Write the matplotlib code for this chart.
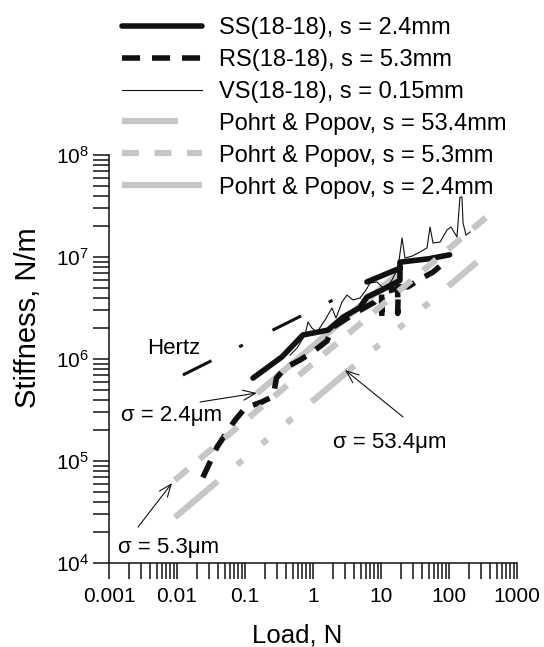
import matplotlib
matplotlib.use('Agg')
import numpy as np
import matplotlib.pyplot as plt
from matplotlib.ticker import FixedLocator, FixedFormatter, NullFormatter

plt.rcParams['font.family'] = ['Liberation Sans', 'DejaVu Sans']
plt.rcParams['mathtext.fontset'] = 'custom'
plt.rcParams['mathtext.rm'] = 'Liberation Sans'
plt.rcParams['mathtext.it'] = 'Liberation Sans:italic'
plt.rcParams['mathtext.default'] = 'regular'
plt.rcParams['lines.scale_dashes'] = False

# ---------------- data ----------------
ss_load = [0.131, 0.35, 0.71, 1.66, 2.76, 4.9, 6.2, 10.0, 19.0, 19.0, 50.0, 102.0, np.nan, 6.2, 19.3]
ss_stiff = [6.5e5, 1.05e6, 1.72e6, 1.92e6, 2.57e6, 3.2e6, 4.05e6, 4.7e6, 5.9e6, 8.9e6, 9.6e6, 1.05e7, np.nan, 5.7e6, 7.8e6]

rs_load = [0.024, 0.039, 0.071, 0.10, 0.178, 0.26, 0.29, 0.39, 0.65, 1.0, 1.6, 1.96, 4.9, 8.0,
           10.2, 10.2, 10.5, 17.6, 17.6, 18.0, 25.0, 35.0, 58.0, 94.0]
rs_stiff = [6.9e4, 1.38e5, 2.5e5, 3.3e5, 3.8e5, 4.3e5, 6.5e5, 8.2e5, 9.8e5, 1.18e6, 1.5e6, 2.05e6, 3.0e6, 3.6e6,
            4.4e6, 2.4e6, 4.5e6, 4.9e6, 2.8e6, 5.1e6, 5.1e6, 5.9e6, 7.1e6, 9.3e6]

vs_load = [0.459, 0.582, 0.762, 0.843, 0.966, 1.145, 1.50, 1.90, 2.18, 2.67, 3.16, 3.87, 4.91, 6.02,
           6.89, 8.73, 11.5, 14.5, 17.8, 20.4, 22.5, 28.6, 37.5, 47.5, 52.6, 58.2, 73.8, 93.5, 107,
           131, 145, 155, 161, 178, 204]
vs_stiff = [1.09e6, 1.28e6, 1.72e6, 2.31e6, 2.01e6, 1.84e6, 2.41e6, 3.16e6, 2.52e6, 3.62e6, 4.24e6, 3.79e6,
            3.96e6, 4.75e6, 5.56e6, 5.69e6, 4.75e6, 5.96e6, 7.8e6, 1.54e7, 9.77e6, 1.02e7, 1.12e7, 1.23e7,
            1.97e7, 1.37e7, 1.40e7, 1.84e7, 1.97e7, 1.57e7, 3.87e7, 3.87e7, 2.15e7, 1.64e7, 1.76e7]

pp534_load = [0.0093, 257]
pp534_stiff = [2.8e4, 8.9e6]
pp53_load = [0.0093, 475]
pp53_stiff = [6.5e4, 2.9e7]
pp24_load = [0.15, 20]
pp24_stiff = [4.6e5, 7.3e6]

hertz_load = [0.0122, 2.25]
hertz_stiff = [6.97e5, 3.96e6]

x_ticks = [1e-3, 1e-2, 1e-1, 1, 10, 100, 1000]
x_labels = ['0.001', '0.01', '0.1', '1', '10', '100', '1000']
y_ticks = [1e4, 1e5, 1e6, 1e7, 1e8]
y_labels = ['$10^{4}$', '$10^{5}$', '$10^{6}$', '$10^{7}$', '$10^{8}$']

labels = ['SS(18-18), s = 2.4mm', 'RS(18-18), s = 5.3mm', 'VS(18-18), s = 0.15mm',
          'Pohrt & Popov, s = 53.4mm', 'Pohrt & Popov, s = 5.3mm', 'Pohrt & Popov, s = 2.4mm']

# ---------------- figure ----------------
W, H = 544, 647
fig = plt.figure(figsize=(W / 100, H / 100), dpi=100)
ax = fig.add_axes([109 / W, 1 - 563 / H, 408 / W, 408 / H])
ax.set_xscale('log')
ax.set_yscale('log')
ax.set_xlim(1e-3, 1e3)
ax.set_ylim(1e4, 1e8)

GRAY = '#c6c6c6'
BLACK = '#111111'

l_pp24, = ax.plot(pp24_load, pp24_stiff, color=GRAY, lw=4.5, solid_capstyle='butt', zorder=2)
l_ss, = ax.plot(ss_load, ss_stiff, color=BLACK, lw=4.0, solid_capstyle='round', solid_joinstyle='round', zorder=3)
l_rs, = ax.plot(rs_load, rs_stiff, color=BLACK, lw=4.0, dashes=[13, 8.6], dash_capstyle='butt', zorder=3)
l_vs, = ax.plot(vs_load, vs_stiff, color=BLACK, lw=0.8, zorder=3)
l_pp534, = ax.plot(pp534_load, pp534_stiff, color=GRAY, lw=4.5,
                   dashes=[40.3, 18.4, 5, 18.4, 5, 18.4, 5, 18.4], dash_capstyle='butt', zorder=4)
l_pp53, = ax.plot(pp53_load, pp53_stiff, color=GRAY, lw=4.5, dashes=[12.2, 11.2], dash_capstyle='butt', zorder=4)
ax.plot(hertz_load, hertz_stiff, color=BLACK, lw=2.2, dashes=[23, 22.3, 3, 23.8], dash_capstyle='butt', zorder=3)

# axes styling
for s in ['top', 'right']:
    ax.spines[s].set_visible(False)
for s in ['left', 'bottom']:
    ax.spines[s].set_linewidth(1.1)
    ax.spines[s].set_color(BLACK)

ax.xaxis.set_major_locator(FixedLocator(x_ticks))
ax.xaxis.set_major_formatter(FixedFormatter(x_labels))
ax.yaxis.set_major_locator(FixedLocator(y_ticks))
ax.yaxis.set_major_formatter(FixedFormatter(y_labels))
xminor = [m * 10.0 ** e for e in range(-3, 3) for m in range(2, 10)]
yminor = [m * 10.0 ** e for e in range(4, 8) for m in range(2, 10)]
ax.xaxis.set_minor_locator(FixedLocator(xminor))
ax.yaxis.set_minor_locator(FixedLocator(yminor))
ax.xaxis.set_minor_formatter(NullFormatter())
ax.yaxis.set_minor_formatter(NullFormatter())
ax.tick_params(which='both', direction='out', length=11.5, width=1.1, color=BLACK, labelsize=15)
ax.tick_params(axis='x', which='major', pad=6)
ax.tick_params(axis='y', which='major', pad=3)

fig.text(297 / W, 1 - 636 / H, 'Load, N', ha='center', va='center', fontsize=18.5)
fig.text(28 / W, 1 - 318 / H, 'Stiffness, N/m', ha='center', va='center', rotation=90, fontsize=21)

# legend
handles = [l_ss, l_rs, l_vs, l_pp534, l_pp53, l_pp24]
fig.legend(handles, labels, loc='upper left', bbox_to_anchor=(122 / W, 1 - 17 / H),
           frameon=False, fontsize=17, handlelength=3.4, handletextpad=0.7,
           labelspacing=0.42, borderpad=0, borderaxespad=0)

# annotations
aprops = dict(arrowstyle='->, head_length=0.9, head_width=0.36', lw=0.8, color=BLACK,
              shrinkA=0, shrinkB=0, mutation_scale=10)
ax.annotate('', xy=(0.150, 4.64e5), xytext=(0.0218, 3.79e5), arrowprops=aprops, zorder=6)
ax.text(0.0084, 2.82e5, 'σ = 2.4μm', ha='center', va='center', fontsize=16)
ax.annotate('', xy=(0.00844, 6.08e4), xytext=(0.00267, 2.25e4), arrowprops=aprops, zorder=6)
ax.text(0.0076, 1.43e4, 'σ = 5.3μm', ha='center', va='center', fontsize=16)
ax.annotate('', xy=(2.96, 7.8e5), xytext=(21.1, 2.7e5), arrowprops=aprops, zorder=6)
ax.text(13.5, 1.53e5, 'σ = 53.4μm', ha='center', va='center', fontsize=16)
ax.text(0.0089, 1.28e6, 'Hertz', ha='center', va='center', fontsize=16)

fig.savefig('out.png', dpi=100)
